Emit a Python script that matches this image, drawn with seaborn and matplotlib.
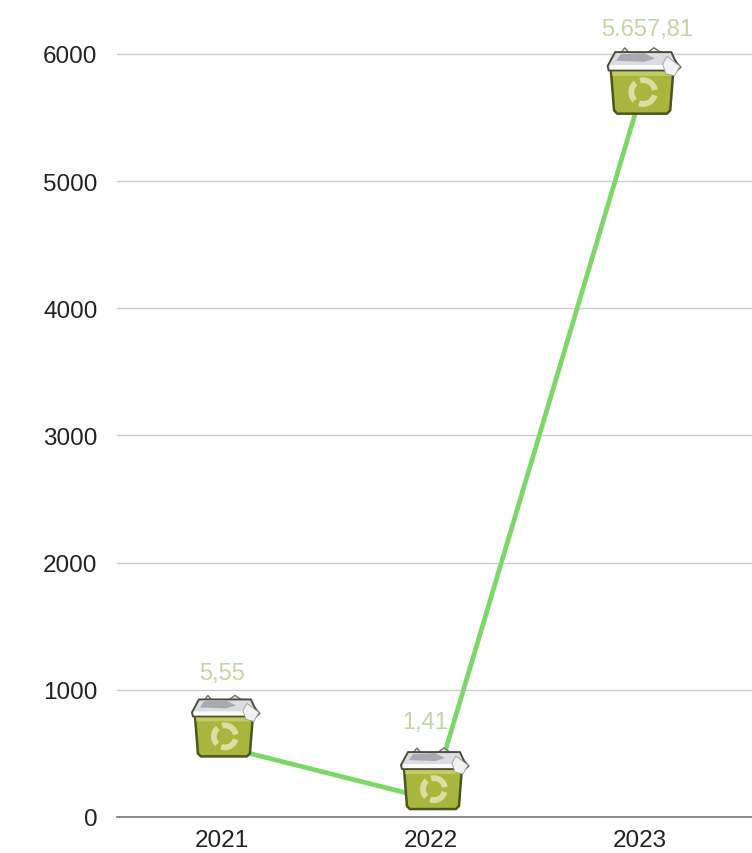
import matplotlib
matplotlib.use('Agg')
import matplotlib.pyplot as plt
import pandas as pd
import seaborn as sns
from matplotlib.patches import Polygon, Arc
from matplotlib.transforms import Affine2D, ScaledTranslation

# values
years = ['2021', '2022', '2023']
values = [555, 141, 5657.81]
value_labels = ['5,55', '1,41', '5.657,81']
y_ticks = [0, 1000, 2000, 3000, 4000, 5000, 6000]

# the icons and labels are not placed evenly in the original
label_nudge = [(0, 73), (-6, 77), (7, 68)]
icon_size = [1, 1, 1.08]
icon_drop = [0, 0, 5]

sns.set_theme(style='white')
plt.rcParams['font.family'] = ['Liberation Sans', 'DejaVu Sans']

df = pd.DataFrame({'year': years, 'value': values})

fig = plt.figure(figsize=(7.52, 8.54), dpi=100)
# axes runs from x=117px to the right edge, baseline at y=818px
ax = fig.add_axes([117 / 752, (854 - 818) / 854, 635 / 752, 818 / 854])

sns.lineplot(data=df, x='year', y='value', ax=ax, color='#7fd668',
             linewidth=3.4, sort=False, zorder=3)


def draw_bin(ax, x, y, size, drop):
    # recycle bin icon, units are pixels around the data point
    tr = Affine2D().translate(0, -drop).scale(size) + ScaledTranslation(x, y, ax.transData)

    def add(p):
        p.set_transform(tr)
        p.set_clip_on(False)
        ax.add_artist(p)

    # paper sticking out of the bin
    add(Polygon([(-21, 42), (-14, 51), (-9, 45), (6, 46), (13, 51), (22, 45), (32, 40),
                 (38, 33), (30, 26), (-20, 30)], closed=True, fc='#ececf0', ec='#6f6f6f', lw=1.0, zorder=4))
    # body, a bit wider at the top
    add(Polygon([(-27, 31), (31, 31), (28, -7), (25, -10), (-21, -10), (-24, -7)], closed=True,
                fc='#a8b63e', ec='#4f5320', lw=1.8, joinstyle='round', zorder=5))
    add(Polygon([(-26, 31), (30, 31), (29.5, 25), (-25.5, 25)], closed=True, fc='#c2cc62', ec='none', zorder=5))
    # rim
    add(Polygon([(-23, 47), (29, 47), (35, 34), (34, 30), (-29, 30), (-30, 34)], closed=True,
                fc='#dcdce2', ec='#4e4e3a', lw=1.4, joinstyle='round', zorder=6))
    add(Polygon([(-28, 35), (34, 35), (33, 31), (-28, 31)], closed=True, fc='#fbfbf8', ec='none', zorder=7))
    add(Polygon([(-18, 45), (4, 46), (14, 41), (4, 38), (-22, 39)], closed=True, fc='#a9a9b4', ec='none', zorder=7))
    add(Polygon([(25, 43), (37, 34), (32, 25), (24, 27), (21, 36)], closed=True, fc='#f2f2f2', ec='#9a9a9a',
                lw=0.6, zorder=8))
    # recycle sign
    for start in (10, 130, 250):
        add(Arc((3, 10), 22, 22, theta1=start, theta2=start + 95, color='#d9df9c', lw=4.2, zorder=8))


for i, (year, value, label) in enumerate(zip(years, values, value_labels)):
    draw_bin(ax, i, value, icon_size[i], icon_drop[i])
    ax.annotate(label, (i, value), xytext=label_nudge[i], textcoords='offset pixels', ha='center', va='center',
                fontsize=17, color='#c3d4a6', zorder=10, annotation_clip=False)

ax.set_xlim(-0.502, 2.536)
ax.set_ylim(0, 6432)
ax.set_yticks(y_ticks)
ax.set_xlabel('')
ax.set_ylabel('')
ax.grid(axis='y', color='#c9cccc', linewidth=1)
ax.set_axisbelow(True)
ax.tick_params(axis='y', length=0, pad=14, labelsize=17.5, labelcolor='#222222')
ax.tick_params(axis='x', length=0, pad=9, labelsize=17.5, labelcolor='#222222')
for side in ['top', 'right', 'left']:
    ax.spines[side].set_visible(False)
ax.spines['bottom'].set_color('#777777')
ax.spines['bottom'].set_linewidth(1.2)

fig.savefig('out.png', dpi=100)
